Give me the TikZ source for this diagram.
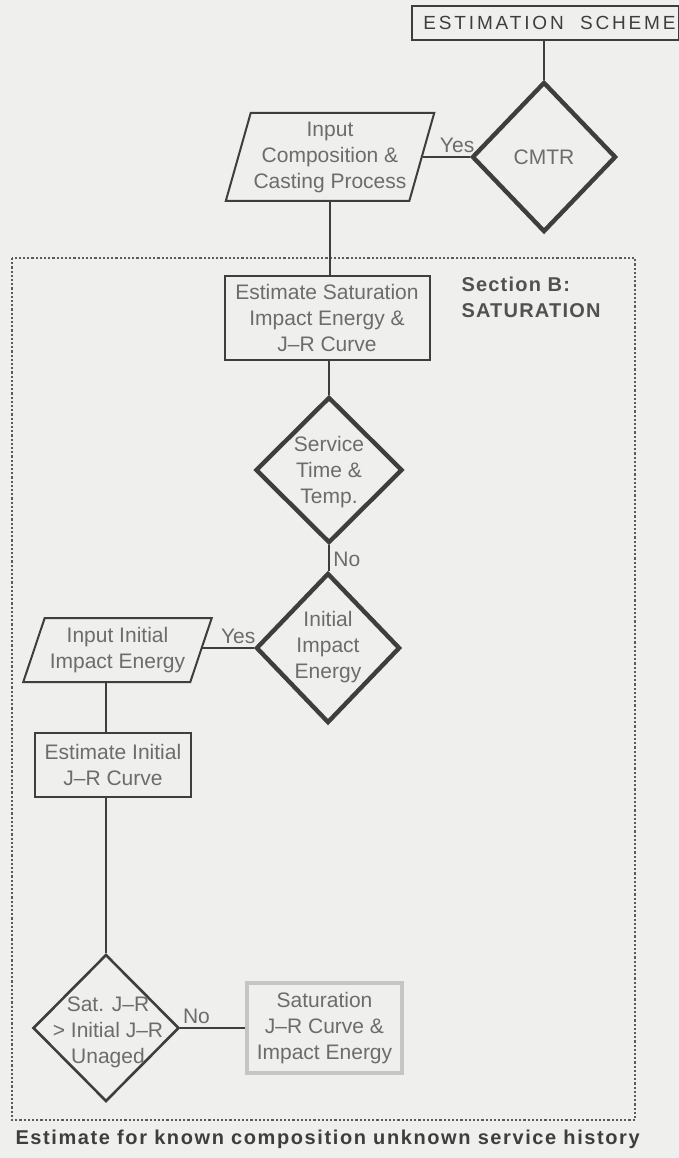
\documentclass[tikz,border=0pt]{standalone}
\usepackage{fontspec}
\setmainfont{Liberation Sans}
\usepackage{xcolor}
\usepackage{tikz}
\usetikzlibrary{shapes.geometric}

\definecolor{paper}{RGB}{239,239,237}
\definecolor{ink}{RGB}{62,62,62}
\definecolor{txt}{RGB}{108,108,108}

\begin{document}
\begin{tikzpicture}[x=1pt, y=-1pt,
    every node/.style={font=\fontsize{21}{26}\selectfont, text=txt, align=center},
    process/.style={draw=ink, line width=2pt, inner sep=3pt},
    io/.style={draw=ink, line width=2pt, trapezium, trapezium stretches=true, inner sep=3pt},
    decision/.style={draw=ink, diamond, line width=4.4pt, inner sep=0pt},
    conn/.style={draw=ink, line width=2.2pt}]
    \useasboundingbox (0,0) rectangle (679,1158);
    \fill[paper] (0,0) rectangle (679,1158);

    % section B frame
    \draw[ink!85, line width=2.6pt, dash pattern=on 2.2pt off 2pt] (12,258) rectangle (635,1120);
    \node[anchor=north west, align=left, text=ink!90,
          font=\bfseries\fontsize{20}{26}\selectfont\addfontfeature{LetterSpace=6}] (secb) at (458,273) {Section B:\\SATURATION};

    % boxes and decisions
    \node[draw=ink, line width=2pt, minimum width=265pt, minimum height=34pt, text=ink,
          font=\fontsize{19}{20}\selectfont\addfontfeature{LetterSpace=15}] (title) at (545.5,23) {\hspace*{8pt}ESTIMATION\ \ SCHEME};
    \node[decision, minimum width=144pt, minimum height=150pt] (cmtr) at (544,157) {CMTR};
    \node[io, trapezium left angle=72, trapezium right angle=108, minimum width=209pt, minimum height=88pt] (incomp) at (330,157) {Input\\Composition \&\\Casting Process};
    \node[process, minimum width=205pt, minimum height=84pt] (estsat) at (327,318) {Estimate Saturation\\Impact Energy \&\\J--R Curve};
    \node[decision, minimum width=147pt, minimum height=146pt] (service) at (329,470) {};
    \node at (329,472) {Service\\Time \&\\Temp.};
    \node[decision, minimum width=144pt, minimum height=150pt] (initial) at (328,648) {};
    \node at (328,647) {Initial\\Impact\\Energy};
    \node[io, trapezium left angle=68, trapezium right angle=112, minimum width=189pt, minimum height=64pt] (ininit) at (117.5,650) {Input Initial\\Impact Energy};
    \node[process, minimum width=156pt, minimum height=64pt] (estinit) at (113,765) {Estimate Initial\\J--R Curve};
    \node[decision, line width=2.6pt, minimum width=146pt, minimum height=147pt] (satcmp) at (106,1028) {};
    \node at (108,1032) {Sat. J--R\\> Initial J--R\\Unaged};
    \node[process, draw=ink!30, line width=4pt, minimum width=155pt, minimum height=90pt] (satjr) at (324.5,1028) {Saturation\\J--R Curve \&\\Impact Energy};

    % connectors
    \draw[conn] (title.south -| cmtr) -- (cmtr.north);
    \draw[conn] (cmtr.west) -- node[pos=0.27, above] {Yes} (cmtr.west -| incomp.east);
    \draw[conn] (incomp.south) -- (incomp.south |- estsat.north);
    \draw[conn] (estsat.south -| service) -- (service.north);
    \draw[conn] (service.south) -- node[pos=0.55, right] {No} (service.south |- initial.north);
    \draw[conn] (initial.west) -- node[pos=0.3, above] {Yes} (initial.west -| ininit.east);
    \draw[conn] (ininit.south -| satcmp) -- (satcmp |- estinit.north);
    \draw[conn] (estinit.south -| satcmp) -- (satcmp.north);
    \draw[conn] (satcmp.east) -- node[pos=0.25, above] {No} (satcmp.east -| satjr.west);

    \node[anchor=west, text=ink, font=\bfseries\fontsize{20}{22}\selectfont\addfontfeature{LetterSpace=8}] (caption) at (12,1139) {Estimate for known composition unknown service history};
\end{tikzpicture}
\end{document}
